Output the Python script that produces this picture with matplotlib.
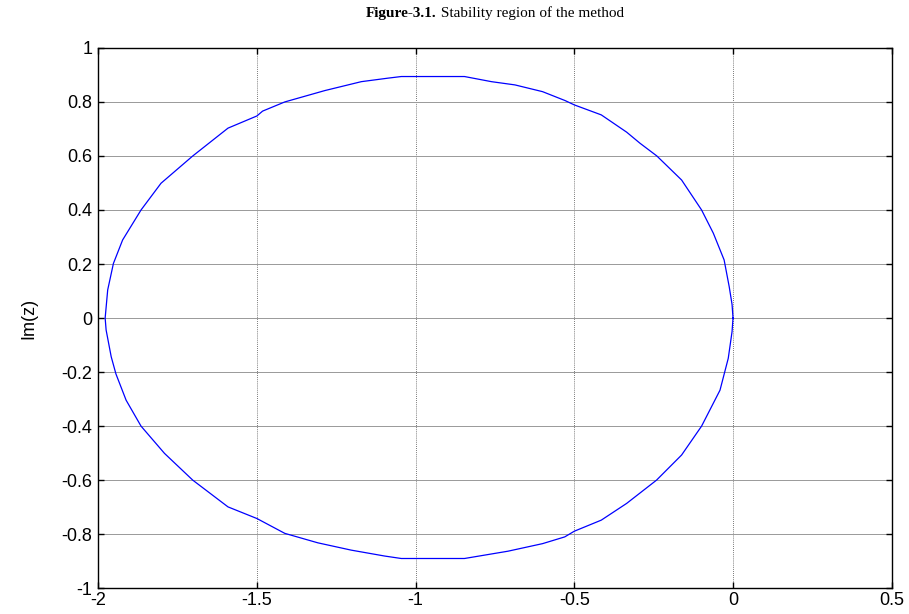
import numpy as np
import matplotlib
matplotlib.use("Agg")
import matplotlib.pyplot as plt

# boundary of the stability region (closed curve)
re_z = [0.0, -0.003, -0.012, -0.028, -0.062, -0.099, -0.162, -0.240, -0.293, -0.335, -0.415,
        -0.500, -0.529, -0.600, -0.687, -0.761, -0.846, -1.045, -1.087, -1.171, -1.286,
        -1.412, -1.482, -1.500, -1.591, -1.702, -1.802, -1.865, -1.923,
        -1.952, -1.970, -1.978, -1.975, -1.959, -1.944, -1.912, -1.865, -1.791,
        -1.702, -1.591, -1.500, -1.412, -1.308, -1.203, -1.097, -1.045, -0.846,
        -0.709, -0.600, -0.530, -0.500, -0.415, -0.335, -0.241, -0.162, -0.099,
        -0.041, -0.015, -0.003, 0.0]
im_z = [0.0, 0.050, 0.116, 0.215, 0.314, 0.400, 0.511, 0.600, 0.647, 0.688, 0.752,
        0.789, 0.805, 0.838, 0.863, 0.875, 0.894, 0.894, 0.888, 0.875, 0.842,
        0.800, 0.766, 0.748, 0.703, 0.600, 0.499, 0.400, 0.289,
        0.202, 0.104, 0.0, -0.044, -0.143, -0.207, -0.304, -0.400, -0.501,
        -0.600, -0.699, -0.742, -0.797, -0.832, -0.859, -0.881, -0.890, -0.890,
        -0.863, -0.835, -0.810, -0.789, -0.748, -0.686, -0.600, -0.507, -0.400,
        -0.267, -0.149, -0.050, 0.0]

x_ticks = [-2, -1.5, -1, -0.5, 0, 0.5]
x_labels = ["-2", "-1.5", "-1", "-0.5", "0", "0.5"]
y_ticks = [-1, -0.8, -0.6, -0.4, -0.2, 0, 0.2, 0.4, 0.6, 0.8, 1]
y_labels = ["-1", "-0.8", "-0.6", "-0.4", "-0.2", "0", "0.2", "0.4", "0.6", "0.8", "1"]

plt.rcParams["font.family"] = ["Liberation Sans", "DejaVu Sans"]
plt.rcParams["axes.unicode_minus"] = False

fig = plt.figure(figsize=(9.09, 6.14), dpi=100)
ax = fig.add_axes([0.108, 0.042, 0.873, 0.88])

ax.plot(re_z, im_z, color="#0000ff", linewidth=0.9)

ax.set_xlim(-2, 0.5)
ax.set_ylim(-1, 1)
ax.set_xticks(x_ticks)
ax.set_xticklabels(x_labels)
ax.set_yticks(y_ticks)
ax.set_yticklabels(y_labels)
ax.tick_params(direction="in", top=True, right=True, length=4, width=1,
               labelsize=13, pad=4)
ax.tick_params(axis="x", pad=3)

ax.xaxis.grid(True, linestyle=(0, (1, 1.5)), color="0.3", linewidth=0.6)
ax.yaxis.grid(True, linestyle="-", color="0.6", linewidth=0.7)
ax.set_axisbelow(True)
for s in ax.spines.values():
    s.set_linewidth(1.0)

ax.set_ylabel("Im(z)", fontsize=13)
ax.yaxis.set_label_coords(-0.076, 0.5)

# title: bold prefix followed by plain text, centred over the axes
t1 = fig.text(0, 0.975, "Figure-3.1.", family="Liberation Serif",
              fontweight="bold", fontsize=11, va="bottom", ha="left")
t2 = fig.text(0, 0.975, " Stability region of the method", family="Liberation Serif",
              fontsize=11, va="bottom", ha="left")
fig.canvas.draw()
r = fig.canvas.get_renderer()
w1 = t1.get_window_extent(r).width
w2 = t2.get_window_extent(r).width
cx = ax.get_window_extent(r).x0 + ax.get_window_extent(r).width / 2
x0 = cx - (w1 + w2) / 2
t1.set_x(x0 / fig.bbox.width)
t2.set_x((x0 + w1) / fig.bbox.width)
t1.set_y(1 - 20 / 614)
t2.set_y(1 - 20 / 614)

fig.savefig("out.png", dpi=100)
